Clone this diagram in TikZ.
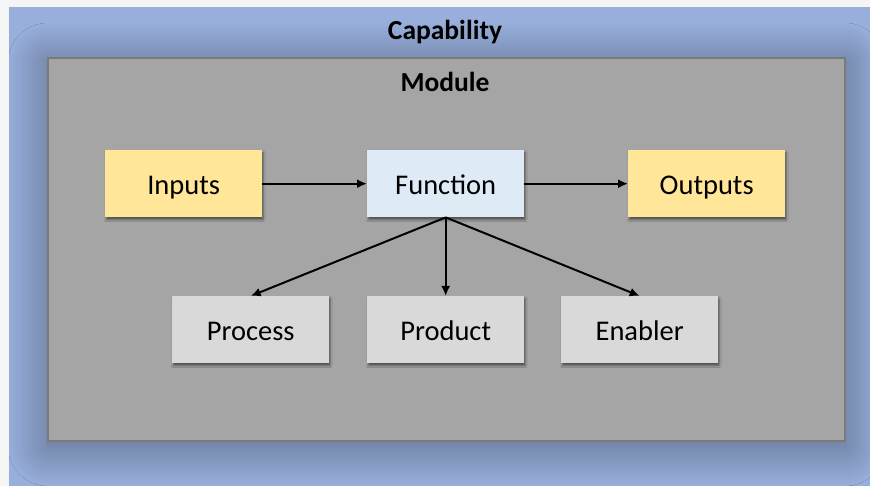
\documentclass[tikz,border=0pt]{standalone}
\usepackage{fontspec}
\setmainfont{Carlito}
\usetikzlibrary{arrows.meta,shadows.blur}

\definecolor{pagebg}{HTML}{F5F5F5}
\definecolor{capblue}{HTML}{98AFDC}
\definecolor{modfill}{HTML}{A5A5A5}
\definecolor{modline}{HTML}{7A7A7A}
\definecolor{ioyellow}{HTML}{FFE699}
\definecolor{funcblue}{HTML}{DEEBF7}
\definecolor{partgrey}{HTML}{D9D9D9}

\tikzset{
  x=1pt, y=-1pt,
  boxlabel/.style={font=\fontsize{28.5}{32}\selectfont},
  titlelabel/.style={font=\fontsize{27.5}{31}\selectfont\bfseries},
  card/.style={draw=none, minimum width=157pt, minimum height=67pt,
    anchor=north west, boxlabel, inner sep=0pt,
    text height=24pt, text depth=2pt,
    blur shadow={shadow xshift=1pt, shadow yshift=-2.5pt,
      shadow blur radius=2pt, shadow opacity=50}},
  ioblock/.style={card, fill=ioyellow},
  funcblock/.style={card, fill=funcblue},
  partblock/.style={card, fill=partgrey},
  flow/.style={line width=2pt, -{Latex[length=10pt,width=9pt]}}
}

\begin{document}
\begin{tikzpicture}
\useasboundingbox (0,0) rectangle (870,486);
\fill[pagebg] (0,0) rectangle (870,486);

% capability frame
\fill[capblue] (9,7) rectangle (870,486);
\node[titlelabel] (cap) at (445,32) {Capability};

% module panel with its soft shadow over the frame
\begin{scope}
  \clip (9,7) rectangle (870,486);
  \node[draw=modline, line width=2pt, fill=modfill, anchor=north west,
        minimum width=797pt, minimum height=383pt, inner sep=0pt,
        blur shadow={shadow xshift=0pt, shadow yshift=-5pt,
          shadow blur radius=40pt, shadow blur steps=30,
          shadow opacity=42, shadow scale=1.0}]
        (module) at (47,57) {};
\end{scope}
\node[titlelabel] (modtitle) at (445,82) {Module};

% blocks
\node[ioblock]   (inputs)   at (105,150) {Inputs};
\node[funcblock] (function) at (367,150) {Function};
\node[ioblock]   (outputs)  at (628,150) {Outputs};
\node[partblock] (process)  at (172,296) {Process};
\node[partblock] (product)  at (367,296) {Product};
\node[partblock] (enabler)  at (561,296) {Enabler};

% connectors
\draw[flow] (inputs.east) -- (function.west);
\draw[flow] (function.east) -- (outputs.west);
\draw[flow] (function.south) -- (process.north);
\draw[flow] (function.south) -- (product.north);
\draw[flow] (function.south) -- (enabler.north);
\end{tikzpicture}
\end{document}
